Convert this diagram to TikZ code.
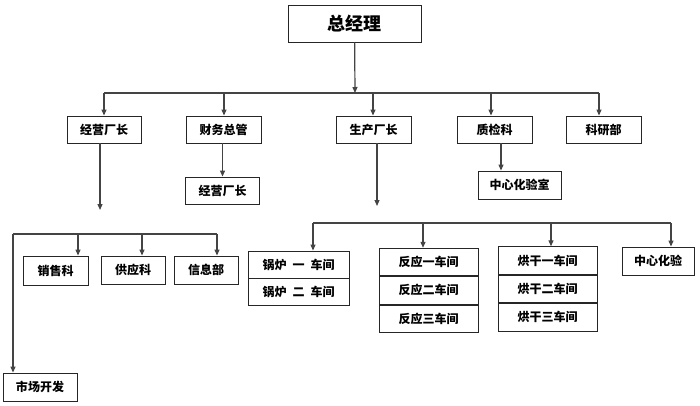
\documentclass[tikz,border=0pt]{standalone}
\usepackage{fontspec}
\setmainfont{Noto Sans CJK SC}
\usepackage{tikz}
\usetikzlibrary{arrows.meta,positioning}
\definecolor{linegray}{RGB}{68,68,68}

\begin{document}
\begin{tikzpicture}[
    x=1pt,y=-1pt,
    >={Triangle[length=6pt,width=5pt]},
    font=\fontsize{12}{14}\selectfont\bfseries,
    unit/.style={
      rectangle,draw=black!85,line width=0.9pt,inner sep=0pt,
      minimum width=75pt,minimum height=27pt
    },
    shop/.style={unit,minimum width=99pt,minimum height=27.5pt},
    flow/.style={->,line width=1.2pt,color=linegray},
    link/.style={line width=1.2pt,color=linegray}
  ]
    \useasboundingbox (0,0) rectangle (700,405);

    \node[unit,minimum width=133pt,minimum height=37pt,
      font=\fontsize{18}{21}\selectfont\bfseries] (gm) at (354.5,23.5) {总经理};

    \node[unit,minimum width=74pt] (jycz) at (104,129.5) {经营厂长};
    \node[unit] (cwzg) at (223.5,129.5) {财务总管};
    \node[unit] (sccz) at (373.5,129.5) {生产厂长};
    \node[unit] (zjk) at (494.5,129.5) {质检科};
    \node[unit] (kyb) at (603.5,129.5) {科研部};

    \node[unit,minimum width=74pt] (jycz2) at (222.5,190.5) {经营厂长};
    \node[unit,minimum width=83pt,minimum height=28pt] (hys) at (519.5,185) {中心化验室};

    \node[unit,minimum width=65pt,minimum height=29pt] (xsk) at (55.5,270.5) {销售科};
    \node[unit,minimum width=64pt,minimum height=28pt] (gyk) at (133,270) {供应科};
    \node[unit,minimum width=64pt,minimum height=28pt] (xxb) at (206,270) {信息部};
    \node[unit,minimum width=74pt,minimum height=28pt] (scfz) at (40,387) {市场开发};

    \node[shop,minimum width=101pt,minimum height=27pt] (gl1) at (298.5,264.5) {锅炉\hspace{6pt}一\hspace{6pt}车间};
    \node[shop,minimum width=101pt,minimum height=27pt,below=0pt of gl1] (gl2) {锅炉\hspace{6pt}二\hspace{6pt}车间};

    \node[shop] (fy1) at (428.5,262) {反应一车间};
    \node[shop,below=0pt of fy1] (fy2) {反应二车间};
    \node[shop,below=0pt of fy2] (fy3) {反应三车间};

    \node[shop] (hg1) at (547.5,260.5) {烘干一车间};
    \node[shop,below=0pt of hg1] (hg2) {烘干二车间};
    \node[shop,below=0pt of hg2] (hg3) {烘干三车间};

    \node[unit,minimum width=72pt,minimum height=28pt] (zxhy) at (658,261) {中心化验};

    \coordinate (top) at (355,93);
    \coordinate (t1) at (104,93);
    \coordinate (t2) at (224,93);
    \coordinate (t3) at (373,93);
    \coordinate (t4) at (491,93);
    \coordinate (t5) at (599,93);
    \draw[flow] (gm) -- (top);
    \draw[link] (t1) -- (t5);
    \foreach \p/\n in {t1/jycz,t2/cwzg,t3/sccz,t4/zjk,t5/kyb}
      \draw[flow] (\p) -- (\p |- \n.north);

    \draw[flow] (jycz2.north |- cwzg.south) -- (jycz2.north);
    \draw[flow] ([xshift=6.5pt]zjk.south) -- ([xshift=6.5pt]zjk.south |- hys.north);

    \coordinate (jyend) at (100,210);
    \coordinate (scend) at (377,206);
    \draw[flow] (jyend |- jycz.south) -- (jyend);
    \draw[flow] (scend |- sccz.south) -- (scend);

    \coordinate (b1) at (13,234);
    \coordinate (b2) at (78,234);
    \coordinate (b3) at (142,234);
    \coordinate (b4) at (217,234);
    \draw[link] (b1) -- (b4);
    \foreach \p/\n in {b2/xsk,b3/gyk,b4/xxb}
      \draw[flow] (\p) -- (\p |- \n.north);
    \draw[flow] (b1) -- (b1 |- scfz.north);

    \coordinate (c1) at (313,223);
    \coordinate (c2) at (423,223);
    \coordinate (c3) at (551,223);
    \coordinate (c4) at (671,223);
    \draw[link] (c1) -- (c4);
    \foreach \p/\n in {c1/gl1,c2/fy1,c3/hg1,c4/zxhy}
      \draw[flow] (\p) -- (\p |- \n.north);
\end{tikzpicture}
\end{document}
